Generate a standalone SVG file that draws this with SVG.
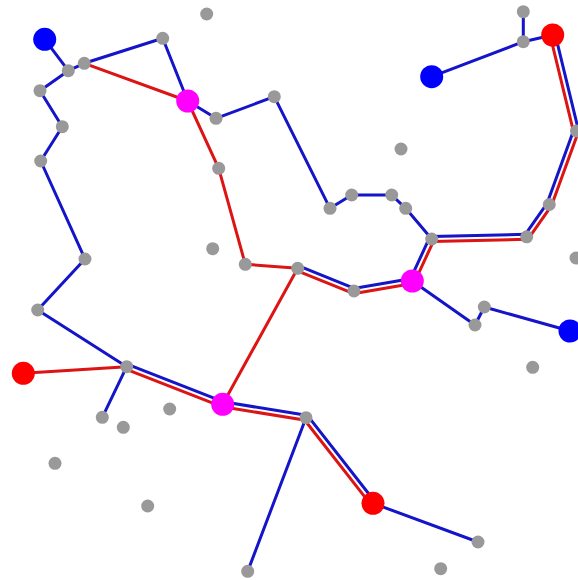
<svg xmlns="http://www.w3.org/2000/svg" width="578" height="580" viewBox="0 0 578 580">
<style>
.b{stroke:#1414c8;stroke-width:3;fill:none;stroke-linejoin:round;stroke-linecap:round}
.r{stroke:#dd1414;stroke-width:3;fill:none;stroke-linejoin:round;stroke-linecap:round}
.g{fill:#999999}
.bb{fill:#0000ff}
.rr{fill:#ff0000}
.m{fill:#ff00ff}
</style>
<rect width="578" height="580" fill="#ffffff"/>
<g id="connectors">
<polyline class="b" points="44.7,39.3 68.3,70.7"/>
<polyline class="b" points="68.3,70.7 84.3,63.3"/>
<polyline class="b" points="84.3,63.3 162.7,38.3 187.7,101 216,118.3 274.3,96.7 330,208.3 351.7,195 391.7,195 405.7,208.3 431.7,239"/>
<polyline class="b" points="68.3,70.7 40,90.7 62.3,126.7 40.7,161 85,259 37.7,310 126.7,366.7"/>
<polyline class="b" points="126.7,366.7 102.3,417.3"/>
<polyline class="b" points="306,417.7 247.7,571.3"/>
<polyline class="b" points="373,503.3 478,542"/>
<polyline class="b" points="412.3,281 475,325 484.3,307 570,331"/>
<polyline class="b" points="431.7,76.7 523.3,41.7 552.7,35"/>
<polyline class="b" points="523.3,41.7 523.3,11.7"/>
<polyline class="r" points="84.3,63.3 187.7,101 218.7,168.3 245.3,264.3 297.7,268.3 222.7,404.3"/>
<polyline class="r" points="23.3,373.3 126.7,366.7"/>
<line class="b" x1="555.2" y1="34.4" x2="578.5" y2="130.4"/>
<line class="r" x1="550.2" y1="35.6" x2="573.5" y2="131.6"/>
<line class="b" x1="573.65" y1="130.15" x2="546.95" y2="203.65"/>
<line class="r" x1="578.35" y1="131.85" x2="551.65" y2="205.35"/>
<line class="b" x1="547.25" y1="203.07" x2="524.65" y2="235.37"/>
<line class="r" x1="551.35" y1="205.93" x2="528.75" y2="238.23"/>
<line class="b" x1="526.64" y1="234.3" x2="431.64" y2="236.5"/>
<line class="r" x1="526.76" y1="239.3" x2="431.76" y2="241.5"/>
<line class="b" x1="429.43" y1="237.95" x2="410.03" y2="279.95"/>
<line class="r" x1="433.97" y1="240.05" x2="414.57" y2="282.05"/>
<line class="b" x1="411.88" y1="278.54" x2="353.58" y2="288.54"/>
<line class="r" x1="412.72" y1="283.46" x2="354.42" y2="293.46"/>
<line class="b" x1="354.93" y1="288.68" x2="298.63" y2="265.98"/>
<line class="r" x1="353.07" y1="293.32" x2="296.77" y2="270.62"/>
<line class="b" x1="127.61" y1="364.37" x2="223.61" y2="401.97"/>
<line class="r" x1="125.79" y1="369.03" x2="221.79" y2="406.63"/>
<line class="b" x1="223.1" y1="401.83" x2="306.4" y2="415.23"/>
<line class="r" x1="222.3" y1="406.77" x2="305.6" y2="420.17"/>
<line class="b" x1="307.97" y1="416.16" x2="374.97" y2="501.76"/>
<line class="r" x1="304.03" y1="419.24" x2="371.03" y2="504.84"/>
</g>
<g id="n1"><circle class="g" cx="206.7" cy="14" r="6.5"/></g>
<g id="n2"><circle class="g" cx="68.3" cy="70.7" r="6.5"/></g>
<g id="n3"><circle class="g" cx="84.3" cy="63.3" r="6.5"/></g>
<g id="n4"><circle class="g" cx="162.7" cy="38.3" r="6.5"/></g>
<g id="n5"><circle class="g" cx="40" cy="90.7" r="6.5"/></g>
<g id="n6"><circle class="g" cx="62.3" cy="126.7" r="6.5"/></g>
<g id="n7"><circle class="g" cx="40.7" cy="161" r="6.5"/></g>
<g id="n8"><circle class="g" cx="216" cy="118.3" r="6.5"/></g>
<g id="n9"><circle class="g" cx="274.3" cy="96.7" r="6.5"/></g>
<g id="n10"><circle class="g" cx="218.7" cy="168.3" r="6.5"/></g>
<g id="n11"><circle class="g" cx="523.3" cy="11.7" r="6.5"/></g>
<g id="n12"><circle class="g" cx="523.3" cy="41.7" r="6.5"/></g>
<g id="n13"><circle class="g" cx="401" cy="149" r="6.5"/></g>
<g id="n14"><circle class="g" cx="576.5" cy="131" r="6.5"/></g>
<g id="n15"><circle class="g" cx="549.3" cy="204.5" r="6.5"/></g>
<g id="n16"><circle class="g" cx="526.7" cy="236.8" r="6.5"/></g>
<g id="n17"><circle class="g" cx="576" cy="258" r="6.5"/></g>
<g id="n18"><circle class="g" cx="330" cy="208.3" r="6.5"/></g>
<g id="n19"><circle class="g" cx="351.7" cy="195" r="6.5"/></g>
<g id="n20"><circle class="g" cx="391.7" cy="195" r="6.5"/></g>
<g id="n21"><circle class="g" cx="405.7" cy="208.3" r="6.5"/></g>
<g id="n22"><circle class="g" cx="431.7" cy="239" r="6.5"/></g>
<g id="n23"><circle class="g" cx="85" cy="259" r="6.5"/></g>
<g id="n24"><circle class="g" cx="37.7" cy="310" r="6.5"/></g>
<g id="n25"><circle class="g" cx="212.7" cy="248.7" r="6.5"/></g>
<g id="n26"><circle class="g" cx="245.3" cy="264.3" r="6.5"/></g>
<g id="n27"><circle class="g" cx="297.7" cy="268.3" r="6.5"/></g>
<g id="n28"><circle class="g" cx="354" cy="291" r="6.5"/></g>
<g id="n29"><circle class="g" cx="484.3" cy="307" r="6.5"/></g>
<g id="n30"><circle class="g" cx="475" cy="325" r="6.5"/></g>
<g id="n31"><circle class="g" cx="532.7" cy="367.3" r="6.5"/></g>
<g id="n32"><circle class="g" cx="126.7" cy="366.7" r="6.5"/></g>
<g id="n33"><circle class="g" cx="102.3" cy="417.3" r="6.5"/></g>
<g id="n34"><circle class="g" cx="123.3" cy="427.3" r="6.5"/></g>
<g id="n35"><circle class="g" cx="169.7" cy="409" r="6.5"/></g>
<g id="n36"><circle class="g" cx="306" cy="417.7" r="6.5"/></g>
<g id="n37"><circle class="g" cx="55" cy="463.3" r="6.5"/></g>
<g id="n38"><circle class="g" cx="147.7" cy="506" r="6.5"/></g>
<g id="n39"><circle class="g" cx="478" cy="542" r="6.5"/></g>
<g id="n40"><circle class="g" cx="440.7" cy="568.7" r="6.5"/></g>
<g id="n41"><circle class="g" cx="247.7" cy="571.3" r="6.5"/></g>
<g id="b1"><circle class="bb" cx="44.7" cy="39.3" r="11.5"/></g>
<g id="b2"><circle class="bb" cx="431.7" cy="76.7" r="11.5"/></g>
<g id="b3"><circle class="bb" cx="570" cy="331" r="11.5"/></g>
<g id="r1"><circle class="rr" cx="552.7" cy="35" r="11.5"/></g>
<g id="r2"><circle class="rr" cx="23.3" cy="373.3" r="11.5"/></g>
<g id="r3"><circle class="rr" cx="373" cy="503.3" r="11.5"/></g>
<g id="m1"><circle class="m" cx="187.7" cy="101" r="11.5"/></g>
<g id="m2"><circle class="m" cx="412.3" cy="281" r="11.5"/></g>
<g id="m3"><circle class="m" cx="222.7" cy="404.3" r="11.5"/></g>
</svg>
